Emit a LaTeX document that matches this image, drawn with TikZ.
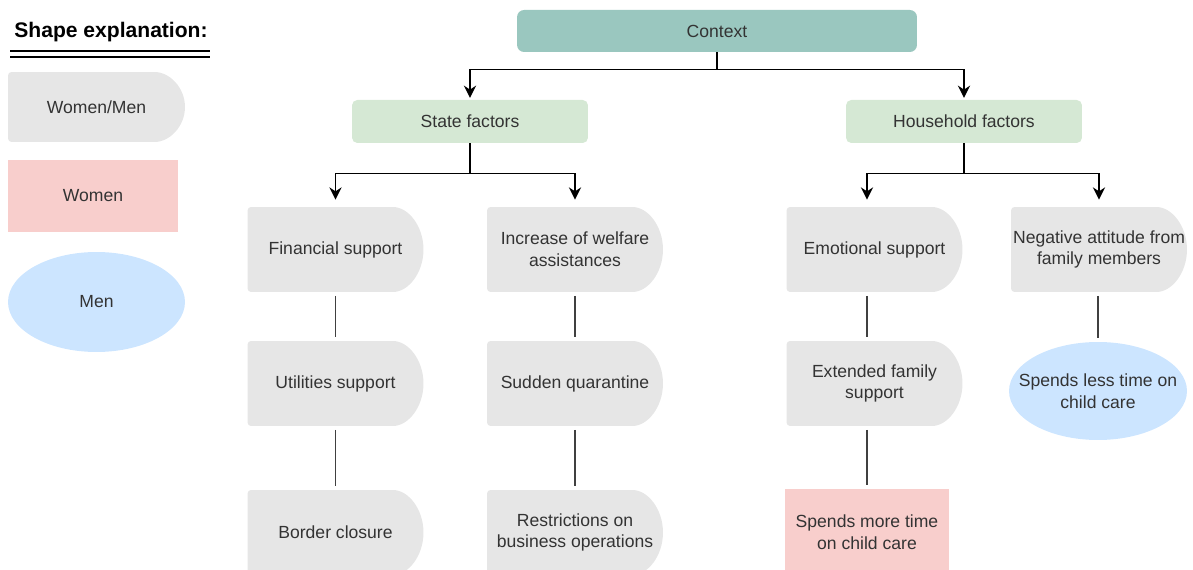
\documentclass[tikz,border=0pt]{standalone}
\usepackage{fontspec}
\setmainfont{Liberation Sans}
\usetikzlibrary{arrows.meta,calc,shapes.geometric}

\definecolor{ctxteal}{HTML}{9AC7BF}
\definecolor{factgreen}{HTML}{D5E8D4}
\definecolor{boxgray}{HTML}{E6E6E6}
\definecolor{womenred}{HTML}{F8CECC}
\definecolor{menblue}{HTML}{CCE5FF}
\definecolor{txtgray}{HTML}{333333}

\begin{document}
\begin{tikzpicture}[x=0.02cm, y=-0.02cm,
	every node/.style={font=\fontsize{10}{12.3}\selectfont, text=txtgray, align=center, inner sep=0pt},
	delay/.style={minimum width=3.52cm, minimum height=1.7cm,
		path picture={\fill[boxgray, rounded corners=2pt] let \p1=(path picture bounding box.south west), \p2=(path picture bounding box.north east) in (\x1,\y1) -- (\x1,\y2) -- (\x2-0.68cm,\y2) arc[start angle=90, end angle=-90, x radius=0.68cm, y radius={(\y2-\y1)/2}] -- cycle;}},
	women/.style={rectangle, fill=womenred},
	men/.style={ellipse, fill=menblue, inner xsep=-0.4cm},
	factor/.style={rectangle, rounded corners=3pt, fill=factgreen, minimum width=4.72cm, minimum height=0.86cm},
	arr/.style={-{Stealth[length=7pt,width=7pt]}, line width=0.8pt, shorten >=1pt},
	link/.style={line width=0.8pt, draw=black!75, shorten <=2pt, shorten >=2pt}]
\useasboundingbox (0,0) rectangle (1193,570);

% legend
\node[text=black, font=\bfseries\fontsize{12}{14}\selectfont] (title) at (111,32) {Shape explanation:};
\draw[line width=0.8pt] (10,51) -- (210,51);
\draw[line width=0.8pt] (10,57) -- (210,57);
\node[delay, minimum width=3.54cm, minimum height=1.4cm] (keyboth) at (96.5,107) {Women/Men};
\node[women, minimum width=3.4cm, minimum height=1.44cm] (keywomen) at (93,196) {Women};
\node[men, minimum width=3.54cm, minimum height=2cm] (keymen) at (96.5,302) {Men};

% top
\node[rectangle, rounded corners=4pt, fill=ctxteal, minimum width=8cm, minimum height=0.84cm] (ctx) at (717,31) {Context};
\node[factor] (state) at (470,121.5) {State factors};
\node[factor] (hh) at (964,121.5) {Household factors};

% state factors
\node[delay] (fin) at (335.5,249.5) {Financial support};
\node[delay] (util) at (335.5,383.5) {Utilities support};
\node[delay] (border) at (335.5,532.5) {Border closure};
\node[delay] (inc) at (575,249.5) {Increase of welfare\\assistances};
\node[delay] (quar) at (575,383.5) {Sudden quarantine};
\node[delay] (restr) at (575,532.5) {Restrictions on\\business operations};

% household factors
\node[delay] (emo) at (874.5,249.5) {Emotional support};
\node[delay] (ext) at (874.5,383.5) {Extended family\\support};
\node[women, minimum width=3.28cm, minimum height=1.72cm] (more) at (867,532) {Spends more time\\on child care};
\node[delay] (neg) at (1099,249.5) {Negative attitude from\\family members};
\node[men, minimum width=3.56cm, minimum height=1.96cm] (less) at (1098,391) {Spends less time on\\child care};

\draw[arr] (ctx.south) -- ++(0,17) -| (state.north);
\draw[arr] (ctx.south) -- ++(0,17) -| (hh.north);
\draw[arr, shorten >=4pt] (state.south) -- ++(0,30) -| (fin.north);
\draw[arr, shorten >=4pt] (state.south) -- ++(0,30) -| (inc.north);
\draw[arr, shorten >=4pt] (hh.south) -- ++(0,30) -| (emo.north -| more.north);
\draw[arr, shorten >=4pt] (hh.south) -- ++(0,30) -| (neg.north);

\draw[link] (fin) -- (util);
\draw[link] (util) -- (border);
\draw[link] (inc) -- (quar);
\draw[link] (quar) -- (restr);
\draw[link] (emo.south -| more.north) -- (ext.north -| more.north);
\draw[link] (ext.south -| more.north) -- (more.north);
\draw[link] (neg.south -| less.north) -- (less.north);
\end{tikzpicture}
\end{document}
